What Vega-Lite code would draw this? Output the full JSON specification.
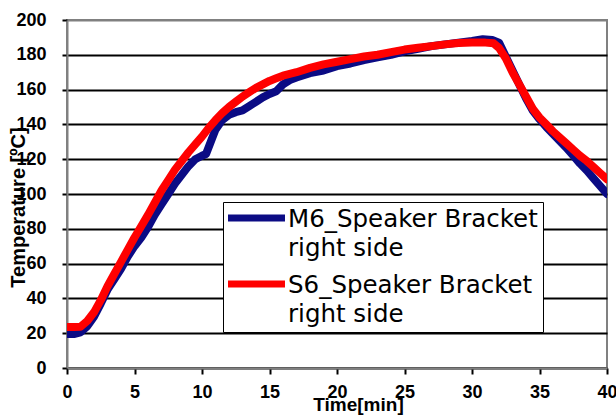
{
  "$schema": "https://vega.github.io/schema/vega-lite/v6.json",
  "autosize": "none",
  "padding": {"left": 67, "top": 20, "right": 9, "bottom": 49},
  "width": 540,
  "height": 348,
  "background": "white",
  "data": {
    "values": [
      {"t": 0, "T": 19.5, "s": "M6_Speaker Bracket right side"},
      {"t": 0.5, "T": 19.5, "s": "M6_Speaker Bracket right side"},
      {"t": 1, "T": 20.5, "s": "M6_Speaker Bracket right side"},
      {"t": 1.5, "T": 24, "s": "M6_Speaker Bracket right side"},
      {"t": 2, "T": 29.5, "s": "M6_Speaker Bracket right side"},
      {"t": 2.5, "T": 37, "s": "M6_Speaker Bracket right side"},
      {"t": 3, "T": 45, "s": "M6_Speaker Bracket right side"},
      {"t": 3.5, "T": 51, "s": "M6_Speaker Bracket right side"},
      {"t": 4, "T": 57, "s": "M6_Speaker Bracket right side"},
      {"t": 4.5, "T": 64, "s": "M6_Speaker Bracket right side"},
      {"t": 5, "T": 70, "s": "M6_Speaker Bracket right side"},
      {"t": 5.5, "T": 75, "s": "M6_Speaker Bracket right side"},
      {"t": 6, "T": 81, "s": "M6_Speaker Bracket right side"},
      {"t": 6.5, "T": 88, "s": "M6_Speaker Bracket right side"},
      {"t": 7, "T": 94, "s": "M6_Speaker Bracket right side"},
      {"t": 7.5, "T": 100, "s": "M6_Speaker Bracket right side"},
      {"t": 8, "T": 106, "s": "M6_Speaker Bracket right side"},
      {"t": 8.5, "T": 111, "s": "M6_Speaker Bracket right side"},
      {"t": 9, "T": 116, "s": "M6_Speaker Bracket right side"},
      {"t": 9.5, "T": 120, "s": "M6_Speaker Bracket right side"},
      {"t": 10, "T": 122, "s": "M6_Speaker Bracket right side"},
      {"t": 10.3, "T": 123, "s": "M6_Speaker Bracket right side"},
      {"t": 10.7, "T": 131, "s": "M6_Speaker Bracket right side"},
      {"t": 11, "T": 137, "s": "M6_Speaker Bracket right side"},
      {"t": 11.5, "T": 142.5, "s": "M6_Speaker Bracket right side"},
      {"t": 12, "T": 145.5, "s": "M6_Speaker Bracket right side"},
      {"t": 12.5, "T": 147, "s": "M6_Speaker Bracket right side"},
      {"t": 13, "T": 148, "s": "M6_Speaker Bracket right side"},
      {"t": 13.5, "T": 150.5, "s": "M6_Speaker Bracket right side"},
      {"t": 14, "T": 153, "s": "M6_Speaker Bracket right side"},
      {"t": 14.5, "T": 155.5, "s": "M6_Speaker Bracket right side"},
      {"t": 15, "T": 157.5, "s": "M6_Speaker Bracket right side"},
      {"t": 15.5, "T": 159, "s": "M6_Speaker Bracket right side"},
      {"t": 16, "T": 163, "s": "M6_Speaker Bracket right side"},
      {"t": 16.5, "T": 165.5, "s": "M6_Speaker Bracket right side"},
      {"t": 17, "T": 167, "s": "M6_Speaker Bracket right side"},
      {"t": 18, "T": 169.5, "s": "M6_Speaker Bracket right side"},
      {"t": 19, "T": 171, "s": "M6_Speaker Bracket right side"},
      {"t": 20, "T": 173.5, "s": "M6_Speaker Bracket right side"},
      {"t": 21, "T": 175, "s": "M6_Speaker Bracket right side"},
      {"t": 22, "T": 177, "s": "M6_Speaker Bracket right side"},
      {"t": 23, "T": 178.5, "s": "M6_Speaker Bracket right side"},
      {"t": 24, "T": 180, "s": "M6_Speaker Bracket right side"},
      {"t": 25, "T": 182, "s": "M6_Speaker Bracket right side"},
      {"t": 26, "T": 183.5, "s": "M6_Speaker Bracket right side"},
      {"t": 27, "T": 185, "s": "M6_Speaker Bracket right side"},
      {"t": 28, "T": 186, "s": "M6_Speaker Bracket right side"},
      {"t": 29, "T": 187, "s": "M6_Speaker Bracket right side"},
      {"t": 30, "T": 188, "s": "M6_Speaker Bracket right side"},
      {"t": 30.8, "T": 189, "s": "M6_Speaker Bracket right side"},
      {"t": 31.5, "T": 188.5, "s": "M6_Speaker Bracket right side"},
      {"t": 32, "T": 187, "s": "M6_Speaker Bracket right side"},
      {"t": 32.5, "T": 179, "s": "M6_Speaker Bracket right side"},
      {"t": 33, "T": 171, "s": "M6_Speaker Bracket right side"},
      {"t": 33.5, "T": 163, "s": "M6_Speaker Bracket right side"},
      {"t": 34, "T": 155, "s": "M6_Speaker Bracket right side"},
      {"t": 34.5, "T": 148, "s": "M6_Speaker Bracket right side"},
      {"t": 35, "T": 143, "s": "M6_Speaker Bracket right side"},
      {"t": 35.5, "T": 138.5, "s": "M6_Speaker Bracket right side"},
      {"t": 36, "T": 134.5, "s": "M6_Speaker Bracket right side"},
      {"t": 36.5, "T": 130.5, "s": "M6_Speaker Bracket right side"},
      {"t": 37, "T": 126.5, "s": "M6_Speaker Bracket right side"},
      {"t": 37.5, "T": 122, "s": "M6_Speaker Bracket right side"},
      {"t": 38, "T": 117.5, "s": "M6_Speaker Bracket right side"},
      {"t": 38.5, "T": 113.5, "s": "M6_Speaker Bracket right side"},
      {"t": 39, "T": 109, "s": "M6_Speaker Bracket right side"},
      {"t": 39.5, "T": 104.5, "s": "M6_Speaker Bracket right side"},
      {"t": 40, "T": 100, "s": "M6_Speaker Bracket right side"},
      {"t": 0, "T": 23.5, "s": "S6_Speaker Bracket right side"},
      {"t": 0.5, "T": 23.5, "s": "S6_Speaker Bracket right side"},
      {"t": 1, "T": 23.7, "s": "S6_Speaker Bracket right side"},
      {"t": 1.5, "T": 27, "s": "S6_Speaker Bracket right side"},
      {"t": 2, "T": 32, "s": "S6_Speaker Bracket right side"},
      {"t": 2.5, "T": 39, "s": "S6_Speaker Bracket right side"},
      {"t": 3, "T": 47, "s": "S6_Speaker Bracket right side"},
      {"t": 3.5, "T": 54, "s": "S6_Speaker Bracket right side"},
      {"t": 4, "T": 61, "s": "S6_Speaker Bracket right side"},
      {"t": 4.5, "T": 68, "s": "S6_Speaker Bracket right side"},
      {"t": 5, "T": 75, "s": "S6_Speaker Bracket right side"},
      {"t": 5.5, "T": 81.5, "s": "S6_Speaker Bracket right side"},
      {"t": 6, "T": 88, "s": "S6_Speaker Bracket right side"},
      {"t": 6.5, "T": 95, "s": "S6_Speaker Bracket right side"},
      {"t": 7, "T": 102, "s": "S6_Speaker Bracket right side"},
      {"t": 7.5, "T": 108, "s": "S6_Speaker Bracket right side"},
      {"t": 8, "T": 114, "s": "S6_Speaker Bracket right side"},
      {"t": 8.5, "T": 119, "s": "S6_Speaker Bracket right side"},
      {"t": 9, "T": 124, "s": "S6_Speaker Bracket right side"},
      {"t": 9.5, "T": 128.5, "s": "S6_Speaker Bracket right side"},
      {"t": 10, "T": 133, "s": "S6_Speaker Bracket right side"},
      {"t": 10.5, "T": 138, "s": "S6_Speaker Bracket right side"},
      {"t": 11, "T": 142.5, "s": "S6_Speaker Bracket right side"},
      {"t": 11.5, "T": 146.5, "s": "S6_Speaker Bracket right side"},
      {"t": 12, "T": 150, "s": "S6_Speaker Bracket right side"},
      {"t": 12.5, "T": 153, "s": "S6_Speaker Bracket right side"},
      {"t": 13, "T": 156, "s": "S6_Speaker Bracket right side"},
      {"t": 13.5, "T": 158.5, "s": "S6_Speaker Bracket right side"},
      {"t": 14, "T": 161, "s": "S6_Speaker Bracket right side"},
      {"t": 14.5, "T": 163, "s": "S6_Speaker Bracket right side"},
      {"t": 15, "T": 165, "s": "S6_Speaker Bracket right side"},
      {"t": 15.5, "T": 166.5, "s": "S6_Speaker Bracket right side"},
      {"t": 16, "T": 168, "s": "S6_Speaker Bracket right side"},
      {"t": 17, "T": 170, "s": "S6_Speaker Bracket right side"},
      {"t": 18, "T": 172.5, "s": "S6_Speaker Bracket right side"},
      {"t": 19, "T": 174.5, "s": "S6_Speaker Bracket right side"},
      {"t": 20, "T": 176, "s": "S6_Speaker Bracket right side"},
      {"t": 21, "T": 177.5, "s": "S6_Speaker Bracket right side"},
      {"t": 22, "T": 179, "s": "S6_Speaker Bracket right side"},
      {"t": 23, "T": 180, "s": "S6_Speaker Bracket right side"},
      {"t": 24, "T": 181.5, "s": "S6_Speaker Bracket right side"},
      {"t": 25, "T": 183, "s": "S6_Speaker Bracket right side"},
      {"t": 26, "T": 184, "s": "S6_Speaker Bracket right side"},
      {"t": 27, "T": 185, "s": "S6_Speaker Bracket right side"},
      {"t": 28, "T": 186, "s": "S6_Speaker Bracket right side"},
      {"t": 29, "T": 186.8, "s": "S6_Speaker Bracket right side"},
      {"t": 30, "T": 187, "s": "S6_Speaker Bracket right side"},
      {"t": 31, "T": 187, "s": "S6_Speaker Bracket right side"},
      {"t": 31.6, "T": 186.6, "s": "S6_Speaker Bracket right side"},
      {"t": 32, "T": 184, "s": "S6_Speaker Bracket right side"},
      {"t": 32.5, "T": 178, "s": "S6_Speaker Bracket right side"},
      {"t": 33, "T": 170, "s": "S6_Speaker Bracket right side"},
      {"t": 33.5, "T": 163, "s": "S6_Speaker Bracket right side"},
      {"t": 34, "T": 156, "s": "S6_Speaker Bracket right side"},
      {"t": 34.5, "T": 149, "s": "S6_Speaker Bracket right side"},
      {"t": 35, "T": 144, "s": "S6_Speaker Bracket right side"},
      {"t": 35.5, "T": 140, "s": "S6_Speaker Bracket right side"},
      {"t": 36, "T": 136, "s": "S6_Speaker Bracket right side"},
      {"t": 36.5, "T": 132.5, "s": "S6_Speaker Bracket right side"},
      {"t": 37, "T": 129, "s": "S6_Speaker Bracket right side"},
      {"t": 37.5, "T": 125.5, "s": "S6_Speaker Bracket right side"},
      {"t": 38, "T": 122, "s": "S6_Speaker Bracket right side"},
      {"t": 38.5, "T": 119, "s": "S6_Speaker Bracket right side"},
      {"t": 39, "T": 115.5, "s": "S6_Speaker Bracket right side"},
      {"t": 39.5, "T": 112, "s": "S6_Speaker Bracket right side"},
      {"t": 40, "T": 108.5, "s": "S6_Speaker Bracket right side"}
    ]
  },
  "mark": {"type": "line", "strokeWidth": 8, "strokeCap": "round", "strokeJoin": "round", "clip": true},
  "encoding": {
    "x": {
      "field": "t", "type": "quantitative",
      "scale": {"domain": [0, 40], "nice": false},
      "axis": {
        "title": "Time[min]",
        "values": [0, 5, 10, 15, 20, 25, 30, 35, 40],
        "grid": false,
        "tickSize": 6, "tickColor": "black", "tickWidth": 2,
        "domainColor": "#808080", "domainWidth": 2,
        "labelFont": "Liberation Sans", "labelFontWeight": "bold", "labelFontSize": 18,
        "labelColor": "black", "labelPadding": 9, "labelFlush": false,
        "titleFont": "Liberation Sans", "titleFontWeight": "bold", "titleFontSize": 19,
        "titleColor": "black", "titleX": 291, "titleY": 27, "titleBaseline": "top"
      }
    },
    "y": {
      "field": "T", "type": "quantitative",
      "scale": {"domain": [0, 200], "nice": false},
      "axis": {
        "title": "Temperature [ºC]",
        "values": [0, 20, 40, 60, 80, 100, 120, 140, 160, 180, 200],
        "grid": true,
        "gridColor": {"condition": {"test": "datum.value == 200", "value": "#808080"}, "value": "black"},
        "gridWidth": 1.8,
        "tickSize": 5, "tickColor": "black", "tickWidth": 2,
        "domainColor": "#808080", "domainWidth": 2,
        "labelFont": "Liberation Sans", "labelFontWeight": "bold", "labelFontSize": 18,
        "labelColor": "black", "labelPadding": 16, "labelFlush": false,
        "titleFont": "Liberation Sans", "titleFontWeight": "bold", "titleFontSize": 20,
        "titleColor": "black", "titleX": -49, "titleY": 187, "titleAngle": -90,
        "titleAlign": "center", "titleBaseline": "middle"
      }
    },
    "color": {
      "field": "s", "type": "nominal",
      "scale": {"domain": ["M6_Speaker Bracket right side", "S6_Speaker Bracket right side"], "range": ["#0b0b84", "#ff0000"]},
      "legend": {
        "title": null,
        "orient": "none",
        "legendX": 156,
        "legendY": 182,
        "labelExpr": "[replace(datum.label, ' right side', ''), 'right side']",
        "labelFont": "DejaVu Sans",
        "labelFontSize": 24.5,
        "labelColor": "black",
        "labelLimit": 400,
        "labelBaseline": "alphabetic",
        "labelOffset": 11.5,
        "symbolType": "M-1.727,-0.545H1.727",
        "symbolSize": 1089,
        "symbolOffset": 8.5,
        "symbolStrokeWidth": 7,
        "rowPadding": 9,
        "padding": 5,
        "strokeColor": "black",
        "fillColor": "white"
      }
    }
  },
  "config": {
    "view": {"stroke": "#808080", "strokeWidth": 2},
    "style": {"guide-label": {"lineHeight": 29}}
  }
}
